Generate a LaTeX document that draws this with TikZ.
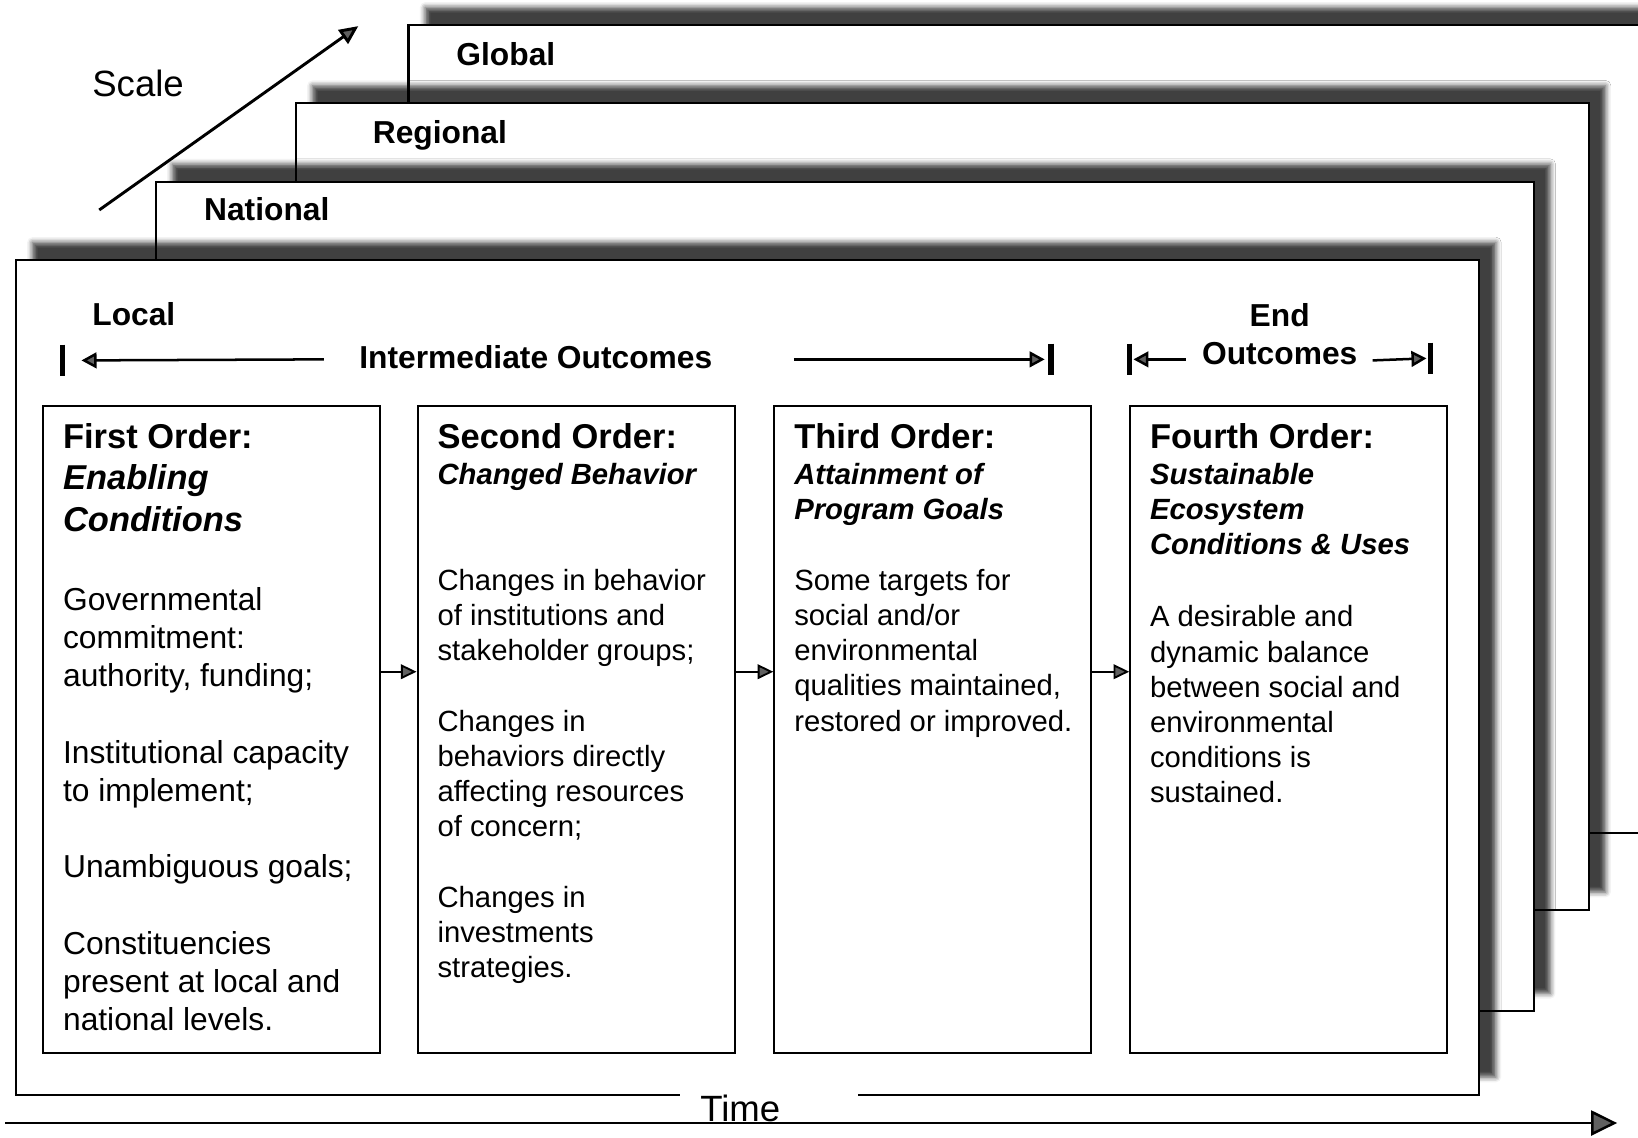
\documentclass[tikz,border=0pt]{standalone}
\usepackage{fontspec}
\setmainfont{Liberation Sans}
\usetikzlibrary{arrows.meta,shadows.blur}

\tikzset{
  layer/.style={fill=white,draw=black,line width=1pt,
    blur shadow={shadow xshift=8pt,shadow yshift=8.5pt,
      shadow blur radius=2.5pt,shadow opacity=75}},
  levellabel/.style={anchor=base west,inner sep=0pt,font=\fontsize{15.2}{18}\selectfont\bfseries},
  orderbox/.style={draw=black,line width=1pt,minimum height=309.5pt,inner sep=0pt},
  ordertitle/.style={anchor=base west,inner sep=0pt,align=left,font=\fontsize{16.5}{20}\selectfont\bfseries},
  ordersub/.style={anchor=base west,inner sep=0pt,align=left,font=\fontsize{14}{16.75}\selectfont\bfseries\itshape},
  orderbody/.style={anchor=base west,inner sep=0pt,align=left,font=\fontsize{14}{16.85}\selectfont},
  link/.style={line width=0.9pt,-{Triangle[length=7.5pt,width=7pt]}},
  span/.style={line width=1.2pt,-{Triangle[length=7.2pt,width=7.5pt]}},
  endbar/.style={line width=2.5pt},
}

\begin{document}
\begin{tikzpicture}[x=0.5pt,y=-0.5pt]
  \useasboundingbox (0,0) rectangle (1568,1089);

  \draw[layer] (391,24)  rectangle (1600,797);
  \draw[layer] (283,99)  rectangle (1521,871);
  \draw[layer] (149,174) rectangle (1468,968);
  \draw[layer] (15,249)  rectangle (1416,1048);

  \node[levellabel] (global)   at (436.5,63)  {Global};
  \node[levellabel] (regional) at (356.5,137) {Regional};
  \node[levellabel] (national) at (195,211.5) {National};
  \node[levellabel] (local)    at (88,312)    {Local};
  \node[anchor=base west,inner sep=0pt,font=\fontsize{17.5}{21}\selectfont] (scale) at (88,92.5) {Scale};

  \coordinate (s0) at (95,201);
  \coordinate (s1) at (343,25);
  \draw[line width=1.4pt,-{Triangle[length=9pt,width=8pt]}] (s0) -- (s1);

  \node[anchor=base west,fill=white,inner xsep=9.5pt,inner ysep=3pt,text width=66pt,align=left,
    font=\fontsize{17.5}{21}\selectfont] (time) at (651,1074) {Time};
  \coordinate (t0) at (5,1075);
  \coordinate (t1) at (1548,1075);
  \draw[line width=1.2pt,-{Triangle[length=12.5pt,width=12pt]}] (t0) -- (t1);

  % outcome spans
  \node[levellabel] (inter) at (343.6,352.5) {Intermediate Outcomes};
  \node[levellabel,anchor=base] (endlbl) at (1225,312.7) {End};
  \node[levellabel,anchor=base] (outlbl) at (1225,348.7) {Outcomes};
  \coordinate (ibarl) at (59.5,345);
  \coordinate (ibarr) at (1006,344);
  \coordinate (ebarl) at (1081.5,344);
  \coordinate (ebarr) at (1369.5,343);
  \coordinate (il) at (310,344);
  \coordinate (ir) at (760,344);
  \coordinate (el) at (1135,344);
  \coordinate (er) at (1314,345);
  \foreach \b in {ibarl,ibarr,ebarl,ebarr}
    \draw[endbar] ([yshift=7.5pt]\b) -- ([yshift=-7.5pt]\b);
  \draw[span] (il) -- ([xshift=9.25pt]ibarl);
  \draw[span] (ir) -- ([xshift=-3pt]ibarr);
  \draw[span] (el) -- ([xshift=1.75pt]ebarl);
  \draw[span] (er) -- ([xshift=-2pt]ebarr);

  % order boxes (text nodes sit on their last baseline)
  \node[orderbox,minimum width=161.5pt] (b1) at (202.5,698.5)  {};
  \node[orderbox,minimum width=152pt]   (b2) at (551.75,698.5) {};
  \node[orderbox,minimum width=151.5pt] (b3) at (892.75,698.5) {};
  \node[orderbox,minimum width=151.5pt] (b4) at (1233.5,698.5) {};
  \draw[link] ([yshift=27.75pt]b1.east) -- ([yshift=27.75pt]b2.west);
  \draw[link] ([yshift=27.75pt]b2.east) -- ([yshift=27.75pt]b3.west);
  \draw[link] ([yshift=27.75pt]b3.east) -- ([yshift=27.75pt]b4.west);

  \node[ordertitle] (t1h) at (60,429) {First Order:};
  \node[ordertitle,font=\fontsize{16.5}{20}\selectfont\bfseries\itshape] (t1s) at (60,509) {Enabling\\Conditions};
  \node[orderbody,font=\fontsize{15.2}{18.3}\selectfont] (t1b) at (60,986.6)
    {Governmental\\commitment:\\authority, funding;\\[18.3pt]Institutional capacity\\to implement;\\[18.3pt]Unambiguous goals;\\[18.3pt]Constituencies\\present at local and\\national levels.};

  \node[ordertitle] (t2h) at (418.5,429) {Second Order:};
  \node[ordersub]   (t2s) at (418.5,464) {Changed Behavior};
  \node[orderbody]  (t2b) at (418.5,935.7)
    {Changes in behavior\\of institutions and\\stakeholder groups;\\[16.85pt]Changes in\\behaviors directly\\affecting resources\\of concern;\\[16.85pt]Changes in\\investments\\strategies.};

  \node[ordertitle] (t3h) at (760,429) {Third Order:};
  \node[ordersub]   (t3s) at (760,497.5) {Attainment of\\Program Goals};
  \node[orderbody]  (t3b) at (760,699.8)
    {Some targets for\\social and/or\\environmental\\qualities maintained,\\restored or improved.};

  \node[ordertitle] (t4h) at (1100.5,429) {Fourth Order:};
  \node[ordersub]   (t4s) at (1100.5,531) {Sustainable\\Ecosystem\\Conditions \& Uses};
  \node[orderbody]  (t4b) at (1100.5,768.5)
    {A desirable and\\dynamic balance\\between social and\\environmental\\conditions is\\sustained.};
\end{tikzpicture}
\end{document}
